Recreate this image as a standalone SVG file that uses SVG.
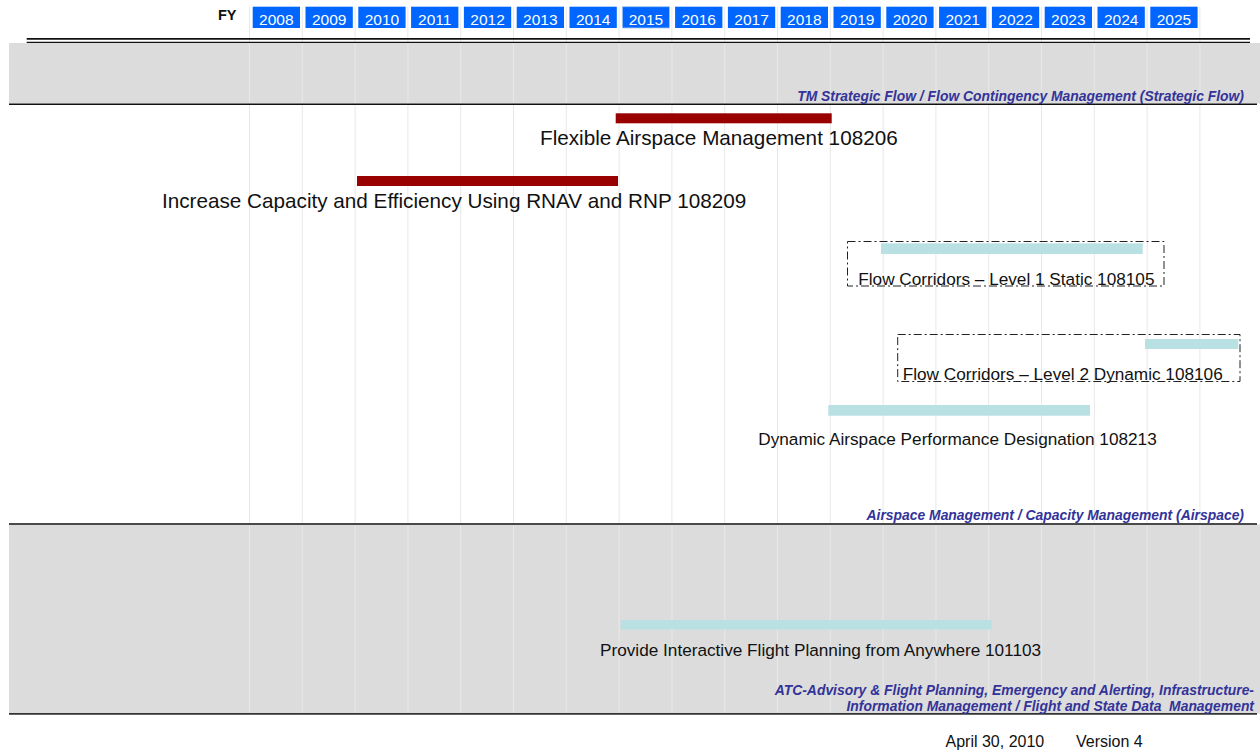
<svg xmlns="http://www.w3.org/2000/svg" width="1260" height="752" viewBox="0 0 1260 752">
<style>
  text { font-family: "Liberation Sans", Arial, sans-serif; }
  .yr { fill: #0066ff; }
  .yt { fill: #ffffff; font-size: 15.5px; text-anchor: middle; }
  .grid { stroke: #e8e8e8; stroke-width: 1; }
  .band { fill: #dcdcdc; }
  .rule { stroke: #111111; stroke-width: 1.5; }
  .red { fill: #990000; }
  .blue { fill: #b9e0e3; }
  .big { font-size: 20.7px; fill: #111111; }
  .lbl { font-size: 17.2px; fill: #111111; }
  .sec { font-size: 13.9px; font-weight: bold; font-style: italic; fill: #333399; text-anchor: end; }
  .dash { fill: none; stroke: #222222; stroke-width: 1; stroke-dasharray: 8 3 2 3; }
  .foot { font-size: 16px; fill: #111111; }
</style>

<!-- bands -->
<rect class="band" x="9" y="43" width="1251" height="60.5"/>
<rect class="band" x="9" y="524.5" width="1251" height="189"/>

<!-- grid -->
<g id="grid">
  <line class="grid" x1="249.5" y1="7" x2="249.5" y2="713"/>
  <line class="grid" x1="302.3" y1="7" x2="302.3" y2="713"/>
  <line class="grid" x1="355.1" y1="7" x2="355.1" y2="713"/>
  <line class="grid" x1="407.9" y1="7" x2="407.9" y2="713"/>
  <line class="grid" x1="460.7" y1="7" x2="460.7" y2="713"/>
  <line class="grid" x1="513.5" y1="7" x2="513.5" y2="713"/>
  <line class="grid" x1="566.3" y1="7" x2="566.3" y2="713"/>
  <line class="grid" x1="619.1" y1="7" x2="619.1" y2="713"/>
  <line class="grid" x1="671.9" y1="7" x2="671.9" y2="713"/>
  <line class="grid" x1="724.7" y1="7" x2="724.7" y2="713"/>
  <line class="grid" x1="777.5" y1="7" x2="777.5" y2="713"/>
  <line class="grid" x1="830.3" y1="7" x2="830.3" y2="713"/>
  <line class="grid" x1="883.1" y1="7" x2="883.1" y2="713"/>
  <line class="grid" x1="935.9" y1="7" x2="935.9" y2="713"/>
  <line class="grid" x1="988.7" y1="7" x2="988.7" y2="713"/>
  <line class="grid" x1="1041.5" y1="7" x2="1041.5" y2="713"/>
  <line class="grid" x1="1094.3" y1="7" x2="1094.3" y2="713"/>
  <line class="grid" x1="1147.1" y1="7" x2="1147.1" y2="713"/>
  <line class="grid" x1="1199.9" y1="7" x2="1199.9" y2="713"/>
</g>

<!-- rules -->
<line x1="26.7" y1="38.8" x2="1250" y2="38.8" stroke="#111111" stroke-width="1.8"/>
<line x1="26.7" y1="42.4" x2="1250" y2="42.4" stroke="#111111" stroke-width="1.4"/>
<line class="rule" x1="9" y1="104.3" x2="1257" y2="104.3"/>
<line class="rule" x1="9" y1="524" x2="1257" y2="524"/>
<line x1="9" y1="713.8" x2="1257" y2="713.8" stroke="#333333" stroke-width="1.8"/>

<!-- header -->
<g id="header">
  <text x="218" y="19.5" font-size="14.5" font-weight="bold" fill="#111111">FY</text>
  <rect class="yr" x="252.7" y="6.7" width="47.3" height="21.3"/><text class="yt" x="276.35" y="24.5">2008</text>
  <rect class="yr" x="305.5" y="6.7" width="47.3" height="21.3"/><text class="yt" x="329.15" y="24.5">2009</text>
  <rect class="yr" x="358.3" y="6.7" width="47.3" height="21.3"/><text class="yt" x="381.95" y="24.5">2010</text>
  <rect class="yr" x="411.1" y="6.7" width="47.3" height="21.3"/><text class="yt" x="434.75" y="24.5">2011</text>
  <rect class="yr" x="463.9" y="6.7" width="47.3" height="21.3"/><text class="yt" x="487.55" y="24.5">2012</text>
  <rect class="yr" x="516.7" y="6.7" width="47.3" height="21.3"/><text class="yt" x="540.35" y="24.5">2013</text>
  <rect class="yr" x="569.5" y="6.7" width="47.3" height="21.3"/><text class="yt" x="593.15" y="24.5">2014</text>
  <rect class="yr" x="622.3" y="6.7" width="47.3" height="21.3" stroke="#a8c8f0" stroke-width="0.8"/><text class="yt" x="645.95" y="24.5">2015</text>
  <rect class="yr" x="675.1" y="6.7" width="47.3" height="21.3"/><text class="yt" x="698.75" y="24.5">2016</text>
  <rect class="yr" x="727.9" y="6.7" width="47.3" height="21.3"/><text class="yt" x="751.55" y="24.5">2017</text>
  <rect class="yr" x="780.7" y="6.7" width="47.3" height="21.3"/><text class="yt" x="804.35" y="24.5">2018</text>
  <rect class="yr" x="833.5" y="6.7" width="47.3" height="21.3"/><text class="yt" x="857.15" y="24.5">2019</text>
  <rect class="yr" x="886.3" y="6.7" width="47.3" height="21.3"/><text class="yt" x="909.95" y="24.5">2020</text>
  <rect class="yr" x="939.1" y="6.7" width="47.3" height="21.3"/><text class="yt" x="962.75" y="24.5">2021</text>
  <rect class="yr" x="991.9" y="6.7" width="47.3" height="21.3"/><text class="yt" x="1015.55" y="24.5">2022</text>
  <rect class="yr" x="1044.7" y="6.7" width="47.3" height="21.3"/><text class="yt" x="1068.35" y="24.5">2023</text>
  <rect class="yr" x="1097.5" y="6.7" width="47.3" height="21.3"/><text class="yt" x="1121.15" y="24.5">2024</text>
  <rect class="yr" x="1150.3" y="6.7" width="47.3" height="21.3"/><text class="yt" x="1173.95" y="24.5">2025</text>
</g>

<!-- section labels -->
<text class="sec" x="1244" y="100.7">TM Strategic Flow / Flow Contingency Management (Strategic Flow)</text>
<text class="sec" x="1244" y="520">Airspace Management / Capacity Management (Airspace)</text>
<text class="sec" x="1254" y="695">ATC-Advisory &amp; Flight Planning, Emergency and Alerting, Infrastructure-</text>
<text class="sec" x="1254" y="710.7" xml:space="preserve">Information Management / Flight and State Data  Management</text>

<g id="connectors"></g>

<!-- nodes -->
<g id="n108206">
  <rect class="red" x="615.7" y="113.3" width="216" height="10"/>
  <text class="big" x="540" y="145">Flexible Airspace Management 108206</text>
</g>
<g id="n108209">
  <rect class="red" x="357" y="176" width="261" height="10"/>
  <text class="big" x="162" y="207.5">Increase Capacity and Efficiency Using RNAV and RNP 108209</text>
</g>
<g id="n108105">
  <rect class="dash" x="847.5" y="241.5" width="316.5" height="44.5"/>
  <rect class="blue" x="881" y="243.3" width="261.7" height="10.7"/>
  <text class="lbl" x="858.3" y="285">Flow Corridors – Level 1 Static 108105</text>
</g>
<g id="n108106">
  <rect class="dash" x="897.7" y="334.5" width="342.3" height="47"/>
  <rect class="blue" x="1145" y="339" width="93.3" height="10"/>
  <text class="lbl" x="902.7" y="380">Flow Corridors – Level 2 Dynamic 108106</text>
</g>
<g id="n108213">
  <rect class="blue" x="828.3" y="405" width="261.7" height="10.7"/>
  <text class="lbl" x="758.3" y="445">Dynamic Airspace Performance Designation 108213</text>
</g>
<g id="n101103">
  <rect class="blue" x="620.7" y="620" width="371" height="9.5"/>
  <text class="lbl" x="600" y="656">Provide Interactive Flight Planning from Anywhere 101103</text>
</g>

<text class="foot" x="945.5" y="747.3">April 30, 2010</text>
<text class="foot" x="1076" y="747.3">Version 4</text>
</svg>
